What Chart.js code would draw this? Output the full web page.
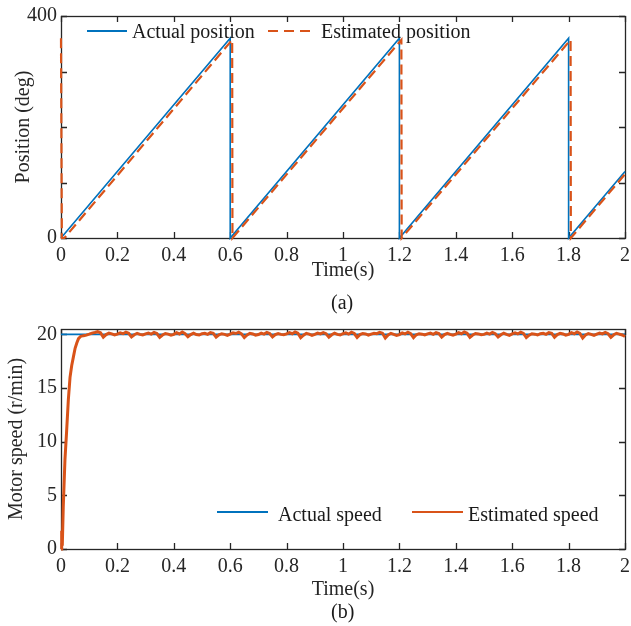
<!DOCTYPE html>
<html>
<head>
<meta charset="utf-8">
<script src="https://cdn.jsdelivr.net/npm/chart.js@4.4.1/dist/chart.umd.min.js"></script>
<style>
  html, body { margin: 0; padding: 0; background: #fff; }
  #wrap { position: relative; width: 631px; height: 626px; overflow: hidden; font-family: 'Liberation Serif', 'Times New Roman', serif; color: #1a1a1a; }
  canvas { position: absolute; left: 0; }
  .lbl { position: absolute; font-size: 20px; line-height: 24px; white-space: nowrap; }
  .sample { position: absolute; }
</style>
</head>
<body>
<div id="wrap">
  <canvas id="c1" width="631" height="300" style="top:0"></canvas>
  <canvas id="c2" width="631" height="326" style="top:300px"></canvas>

  <svg class="sample" style="left:87px;top:26px" width="42" height="10"><line x1="0" y1="5" x2="40" y2="5" stroke="#0072BD" stroke-width="2"/></svg>
  <div class="lbl" style="left:132px;top:19px">Actual position</div>
  <svg class="sample" style="left:268px;top:26px" width="44" height="10"><line x1="0" y1="5" x2="42" y2="5" stroke="#D95319" stroke-width="2" stroke-dasharray="10,6"/></svg>
  <div class="lbl" style="left:321px;top:19px">Estimated position</div>
  <div class="lbl" style="left:331px;top:290px">(a)</div>

  <svg class="sample" style="left:217px;top:507px" width="52" height="10"><line x1="0" y1="5" x2="51" y2="5" stroke="#0072BD" stroke-width="2"/></svg>
  <div class="lbl" style="left:278px;top:502px">Actual speed</div>
  <svg class="sample" style="left:412px;top:507px" width="52" height="10"><line x1="0" y1="5" x2="51" y2="5" stroke="#D95319" stroke-width="2"/></svg>
  <div class="lbl" style="left:468px;top:502px">Estimated speed</div>
  <div class="lbl" style="left:331px;top:599px">(b)</div>
</div>
<script>
// ---------- data ----------
const xTickValues = [0, 0.2, 0.4, 0.6, 0.8, 1, 1.2, 1.4, 1.6, 1.8, 2];
const xTickLabels = ['0', '0.2', '0.4', '0.6', '0.8', '1', '1.2', '1.4', '1.6', '1.8', '2'];

const posTickValues = [0, 100, 200, 300, 400];
const posTickLabels = ['0', '', '', '', '400'];
const speedTickValues = [0, 5, 10, 15, 20];
const speedTickLabels = ['0', '5', '10', '15', '20'];

// (a) position
const actualPosT = [0, 0.6, 0.6, 1.2, 1.2, 1.8, 1.8, 2.0];
const actualPos  = [0, 360, 0, 360, 0, 360, 0, 120];
const estPosT = [0, 0.003, 0.012, 0.607, 0.608, 1.207, 1.208, 1.807, 1.808, 2.0];
const estPos  = [360, 0, 0, 357, 0, 357, 0, 357, 0, 115];

// (b) speed
const actualSpeedT = [0, 2];
const actualSpeed  = [20, 20];
const estSpeedStartT = [0, 0.0025, 0.0046, 0.008, 0.014, 0.02, 0.026, 0.032, 0.038, 0.044, 0.05, 0.056, 0.062];
const estSpeedStart  = [0, 1.7, 0.3, 3.9, 8.3, 11, 13.9, 16, 17.1, 17.9, 18.7, 19.2, 19.6];
// samples every 0.01 s from 0.07 s to 2.00 s
const estSpeedSteady = [
  19.82, 19.88, 19.93, 20.02, 20.12, 20.18, 20.25, 20.15,
  19.74, 19.98, 20.12, 20.04, 19.95, 20.02, 20.14, 20.06, 20.2, 20.1,
  19.76, 19.96, 20.1, 20.0, 19.94, 20.04, 20.12, 20.02, 20.18, 20.08,
  19.72, 19.94, 20.08, 20.02, 19.92, 20.0, 20.16, 20.04, 20.22, 20.06,
  19.78, 19.98, 20.12, 19.98, 19.94, 20.06, 20.1, 20.0, 20.16, 20.1,
  19.74, 19.96, 20.06, 20.0, 19.9, 20.02, 20.14, 20.08, 20.2, 20.04,
  19.7, 19.94, 20.1, 20.04, 19.92, 19.98, 20.12, 20.02, 20.18, 20.08,
  19.76, 19.98, 20.08, 20.0, 19.96, 20.04, 20.16, 20.06, 20.22, 20.1,
  19.68, 19.92, 20.1, 20.02, 19.9, 20.0, 20.12, 20.04, 20.16, 20.06,
  19.74, 19.96, 20.12, 20.0, 19.94, 20.06, 20.14, 20.02, 20.2, 20.08,
  19.72, 19.98, 20.08, 20.04, 19.92, 20.02, 20.1, 20.06, 20.18, 20.1,
  19.66, 19.94, 20.1, 20.0, 19.9, 19.98, 20.14, 20.04, 20.2, 20.06,
  19.7, 19.96, 20.06, 20.02, 19.94, 20.04, 20.12, 20.0, 20.16, 20.08,
  19.74, 19.98, 20.1, 20.0, 19.92, 20.02, 20.16, 20.06, 20.22, 20.1,
  19.72, 19.94, 20.08, 20.04, 19.96, 20.0, 20.12, 20.02, 20.18, 20.06,
  19.76, 19.96, 20.12, 20.0, 19.9, 20.04, 20.14, 20.04, 20.2, 20.08,
  19.7, 19.92, 20.06, 20.02, 19.94, 20.06, 20.1, 20.0, 20.16, 20.1,
  19.74, 19.98, 20.1, 20.04, 19.92, 20.0, 20.16, 20.06, 20.22, 20.08,
  19.66, 19.94, 20.08, 20.0, 19.9, 20.02, 20.12, 20.04, 20.18, 20.06,
  19.72, 19.96, 20.1, 20.02, 19.94, 19.8
];

// ---------- helpers ----------
const BLUE = '#0072BD', ORANGE = '#D95319', AXIS = '#262626';
const FONT = { family: "'Liberation Serif', 'Times New Roman', serif", size: 20 };

function pts(ts, vs) { return ts.map((t, i) => ({ x: t, y: vs[i] })); }

const steadyT = estSpeedSteady.map((_, i) => Math.round((0.07 + i * 0.01) * 1000) / 1000);

const boxTicks = {
  id: 'boxTicks',
  beforeDatasetsDraw(chart) {
    const { ctx, chartArea: a, scales } = chart;
    const L = 6;
    ctx.save();
    ctx.strokeStyle = AXIS;
    ctx.lineWidth = 1.3;
    ctx.beginPath();
    scales.x.ticks.forEach(t => {
      const px = Math.round(scales.x.getPixelForValue(t.value)) + 0.5;
      ctx.moveTo(px, a.bottom); ctx.lineTo(px, a.bottom - L);
      ctx.moveTo(px, a.top); ctx.lineTo(px, a.top + L);
    });
    scales.y.ticks.forEach(t => {
      const py = Math.round(scales.y.getPixelForValue(t.value)) + 0.5;
      ctx.moveTo(a.left, py); ctx.lineTo(a.left + L, py);
      ctx.moveTo(a.right, py); ctx.lineTo(a.right - L, py);
    });
    ctx.stroke();
    ctx.strokeRect(Math.round(a.left) + 0.5, Math.round(a.top) + 0.5, Math.round(a.right - a.left), Math.round(a.bottom - a.top));
    ctx.restore();
  }
};

function makeChart(id, cfg) {
  return new Chart(document.getElementById(id), {
    type: 'line',
    data: { datasets: cfg.datasets },
    options: {
      responsive: false,
      animation: false,
      devicePixelRatio: 1,
      layout: { padding: { left: 0, top: cfg.padTop, right: 6, bottom: 0 } },
      plugins: { legend: { display: false }, tooltip: { enabled: false } },
      elements: { point: { radius: 0 }, line: { tension: 0 } },
      scales: {
        x: {
          type: 'linear', min: 0, max: 2,
          grid: { display: false, drawTicks: false },
          border: { display: false },
          afterBuildTicks: s => { s.ticks = xTickValues.map(v => ({ value: v })); },
          afterFit: s => { s.height = cfg.xHeight; s.paddingLeft = 0; s.paddingRight = 0; },
          ticks: { padding: 6, font: FONT, color: AXIS, autoSkip: false, maxRotation: 0,
                   callback: (v, i) => xTickLabels[i] },
          title: { display: true, text: 'Time(s)', font: FONT, color: AXIS,
                   padding: { top: 0, bottom: cfg.xTitlePad } }
        },
        y: {
          type: 'linear', min: 0, max: cfg.yMax,
          grid: { display: false, drawTicks: false },
          border: { display: false },
          afterBuildTicks: s => { s.ticks = cfg.yTicks.map(v => ({ value: v })); },
          afterFit: s => { s.width = 61; s.paddingTop = 0; s.paddingBottom = 0; },
          ticks: { padding: 4, font: FONT, color: AXIS, autoSkip: false,
                   callback: (v, i) => cfg.yLabels[i] },
          title: { display: true, text: cfg.yTitle, font: FONT, color: AXIS,
                   padding: { top: cfg.yTitlePad, bottom: 0 } }
        }
      }
    },
    plugins: [boxTicks]
  });
}

makeChart('c1', {
  padTop: 16, xHeight: 62, xTitlePad: 17, yMax: 400,
  yTicks: posTickValues, yLabels: posTickLabels,
  yTitle: 'Position (deg)', yTitlePad: 12,
  datasets: [
    { label: 'Actual position', data: pts(actualPosT, actualPos), borderColor: BLUE, borderWidth: 1.6, order: 2, clip: 4 },
    { label: 'Estimated position', data: pts(estPosT, estPos), borderColor: ORANGE, borderWidth: 2.2, borderDash: [10, 5], order: 1, clip: 4 }
  ]
});

makeChart('c2', {
  padTop: 29, xHeight: 77, xTitlePad: 24, yMax: 20.5,
  yTicks: speedTickValues, yLabels: speedTickLabels,
  yTitle: 'Motor speed (r/min)', yTitlePad: 5,
  datasets: [
    { label: 'Actual speed', data: pts(actualSpeedT, actualSpeed), borderColor: BLUE, borderWidth: 1.6, order: 2 },
    { label: 'Estimated speed', data: pts(estSpeedStartT.concat(steadyT), estSpeedStart.concat(estSpeedSteady)), borderColor: ORANGE, borderWidth: 3, order: 1, clip: 4 }
  ]
});
</script>
</body>
</html>
